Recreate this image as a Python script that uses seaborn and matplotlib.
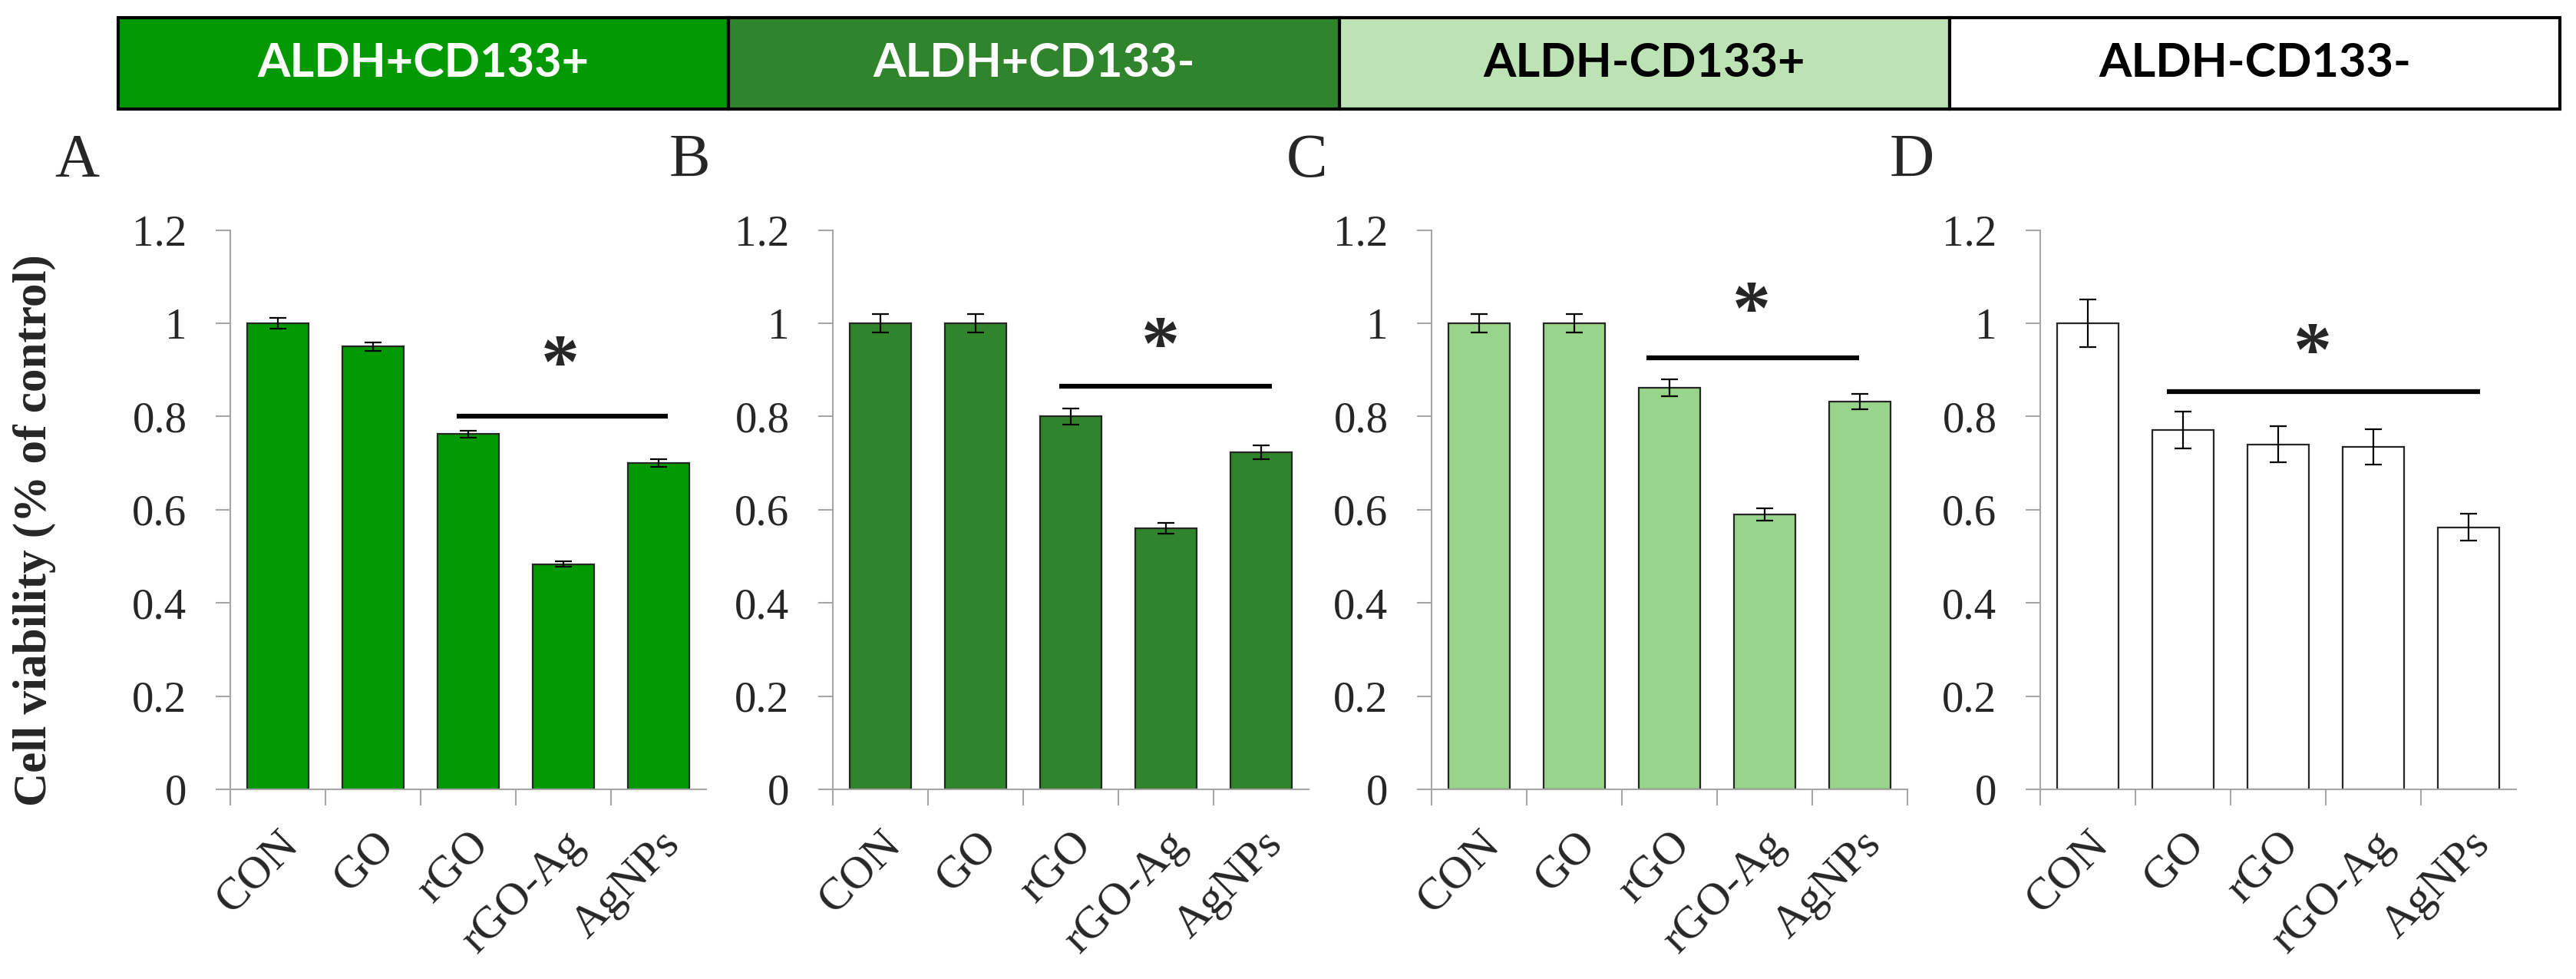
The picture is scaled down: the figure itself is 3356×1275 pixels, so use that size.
import matplotlib
matplotlib.use('Agg')
import matplotlib.pyplot as plt
import seaborn as sns
import numpy as np
import pandas as pd

# data
treatments = ['CON', 'GO', 'rGO', 'rGO-Ag', 'AgNPs']
groups = ['ALDH+CD133+', 'ALDH+CD133-', 'ALDH-CD133+', 'ALDH-CD133-']
panel_letters = ['A', 'B', 'C', 'D']

viab_a = [1.00, 0.95, 0.762, 0.483, 0.700]
err_a = [0.012, 0.009, 0.008, 0.006, 0.0075]
viab_b = [1.00, 1.00, 0.80, 0.56, 0.723]
err_b = [0.02, 0.02, 0.017, 0.012, 0.015]
viab_c = [1.00, 1.00, 0.861, 0.59, 0.832]
err_c = [0.02, 0.02, 0.018, 0.013, 0.016]
viab_d = [1.00, 0.771, 0.740, 0.734, 0.562]
err_d = [0.051, 0.040, 0.039, 0.038, 0.029]

# significance bars: start, end, height and asterisk position
sig_start = [1.88, 1.88, 1.76, 0.83]
sig_end = [4.10, 4.11, 3.99, 4.12]
sig_y = [0.80, 0.864, 0.925, 0.854]
star_x = [2.97, 2.94, 2.86, 2.36]
star_y = [0.905, 0.944, 1.02, 0.93]

yticks = [0, 0.2, 0.4, 0.6, 0.8, 1.0, 1.2]
ytick_labels = ['0', '0.2', '0.4', '0.6', '0.8', '1', '1.2']

bar_colors = ['#009900', '#30842c', '#98d48b', '#ffffff']
header_colors = ['#009900', '#30842c', '#bde3b5', '#ffffff']
header_text_colors = ['white', 'white', 'black', 'black']

values = [viab_a, viab_b, viab_c, viab_d]
errors = [err_a, err_b, err_c, err_d]

sns.set_style('white')
plt.rcParams['font.family'] = ['Liberation Serif', 'DejaVu Serif']

W, H = 3356, 1275
fig = plt.figure(figsize=(W / 100, H / 100), dpi=100)

# header strip with the four cell populations
hax = fig.add_axes([154 / W, 1 - 142 / H, (3335 - 154) / W, 119 / H])
hax.bar(np.arange(4), 1, width=1, align='edge', color=header_colors,
        edgecolor='black', linewidth=3, clip_on=False)
for i, g in enumerate(groups):
    hax.text(i + 0.5, 0.5, g, ha='center', va='center', fontsize=44,
             fontweight='bold', family=['Lato', 'DejaVu Sans'],
             color=header_text_colors[i])
hax.set_xlim(0, 4)
hax.set_ylim(0, 1)
hax.axis('off')

axis_left = [300, 1085, 1865, 2658]
letter_x = [71, 872, 1676, 2462]
grey = '#a6a6a6'

for k in range(4):
    ax = fig.add_axes([axis_left[k] / W, 1 - 1028 / H, 620 / W, 728.5 / H])
    df = pd.DataFrame({'treatment': treatments, 'viability': values[k]})
    sns.barplot(data=df, x='treatment', y='viability', color=bar_colors[k],
                saturation=1, width=0.65, edgecolor='#262626', linewidth=1.6,
                errorbar=None, ax=ax)
    ax.errorbar(np.arange(len(treatments)), values[k], yerr=errors[k],
                fmt='none', ecolor='black', elinewidth=1.6, capsize=8,
                capthick=1.6, zorder=5)
    ax.plot([sig_start[k], sig_end[k]], [sig_y[k], sig_y[k]], color='black',
            lw=4.5, solid_capstyle='butt')
    ax.text(star_x[k], star_y[k], '*', ha='center', va='center',
            fontsize=72, fontweight='bold')

    ax.set_xlim(-0.5, 4.5)
    ax.set_ylim(0, 1.2)
    ax.set_xlabel('')
    ax.set_ylabel('')
    for s in ['top', 'right']:
        ax.spines[s].set_visible(False)
    for s in ['left', 'bottom']:
        ax.spines[s].set_color(grey)
        ax.spines[s].set_linewidth(1.5)

    ax.set_yticks(yticks)
    ax.set_yticklabels(ytick_labels)
    ax.tick_params(axis='y', length=13.7, width=1.5, color=grey, pad=27,
                   labelsize=41, left=True)

    ax.set_xticks(np.arange(len(treatments)))
    ax.set_xticklabels(treatments)
    ax.tick_params(axis='x', which='major', length=0, pad=32, labelsize=43)
    nb = 6 if k == 2 else 5
    ax.set_xticks(np.arange(nb) - 0.5, minor=True)
    ax.tick_params(axis='x', which='minor', length=15, width=1.5, color=grey,
                   direction='out', bottom=True)
    plt.setp(ax.get_xticklabels(), rotation=45, ha='right',
             rotation_mode='anchor')

    fig.text(letter_x[k] / W, 1 - 230 / H, panel_letters[k], fontsize=58,
             ha='left', va='baseline')

fig.text(45 / W, 1 - 691 / H, 'Cell viability (% of control)', rotation=90,
         fontsize=44, fontweight='bold', ha='center', va='center')

fig.savefig('out.png', dpi=100)
